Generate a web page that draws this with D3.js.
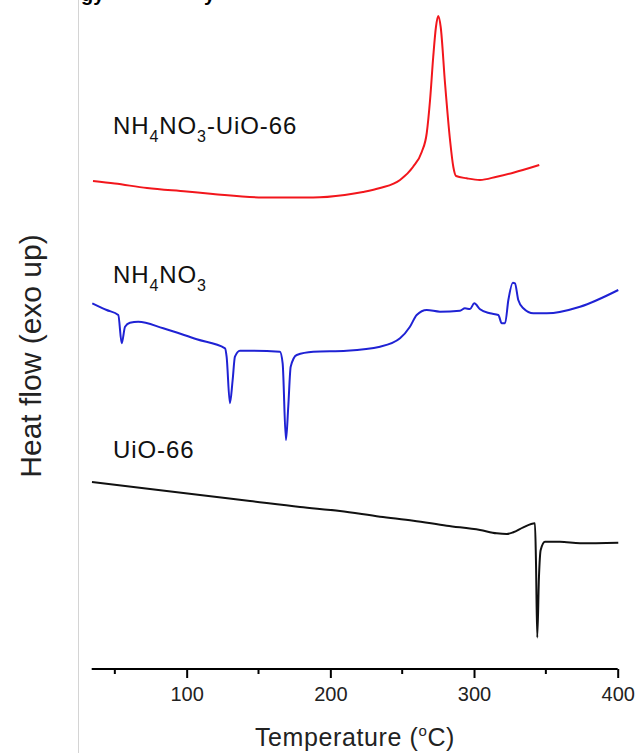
<!DOCTYPE html>
<html>
<head>
<meta charset="utf-8">
<script src="https://cdn.jsdelivr.net/npm/d3@7"></script>
<style>
  body { margin: 0; background: #fff; }
  text { font-family: "Liberation Sans", Arial, sans-serif; }
</style>
</head>
<body>
<svg id="chart" width="636" height="753"></svg>
<script>
// DSC traces, temperature in degC, heat flow in arbitrary units (curves offset)
var compositeTemp = [34.8, 50, 72.4, 100, 118.3, 153, 188, 210, 222.7, 234.6, 248.5, 257.5, 263.6, 267.1, 269.4, 271.6, 273.5, 275.1, 276.8, 279.8, 283.3, 285.6, 287.5, 294.9, 304.1, 315.8, 327.3, 345.4];
var compositeFlow = [48.8, 48.55, 48.1, 47.75, 47.5, 47.15, 47.15, 47.4, 47.7, 48.1, 48.9, 50.2, 51.7, 53.6, 56.9, 61.2, 64.2, 65.3, 64.2, 58.6, 52.9, 50.2, 49.3, 49.07, 48.9, 49.23, 49.63, 50.4];

var nitrateTemp = [34.3, 44.3, 52.4, 54.8, 57.1, 60.5, 66.3, 83.7, 107, 126.7, 127.8, 130.1, 132, 133.6, 137.1, 164.9, 166.8, 169.1, 170.7, 172.4, 176.6, 188.1, 211.4, 234.6, 248.5, 255.4, 260.1, 267.1, 276.3, 290.2, 293.7, 297.2, 300.2, 304.2, 311.1, 316.9, 319.3, 321.6, 323.9, 327, 328.5, 330.8, 334.3, 341.3, 350.6, 373.8, 400.4];
var nitrateFlow = [36.57, 35.9, 35.4, 32.57, 34.23, 34.63, 34.73, 34.07, 32.97, 32.07, 31.23, 26.57, 28.9, 31.23, 31.83, 31.73, 30.57, 22.9, 26.23, 30.23, 31.4, 31.73, 31.83, 32.23, 33.07, 34.23, 35.4, 35.9, 35.73, 35.83, 36.07, 36.0, 36.57, 35.97, 35.57, 35.4, 34.57, 34.57, 36.9, 38.63, 38.57, 36.9, 36.07, 35.57, 35.57, 36.23, 37.9];

var mofTemp = [34.1, 74.5, 109.3, 144.1, 178.9, 206.7, 234.6, 257.8, 281, 304.2, 315.8, 322.7, 327.3, 334.3, 342.4, 343.1, 344, 345.2, 346.4, 349.4, 359.8, 373.8, 400.4];
var mofFlow = [18.7, 18.0, 17.4, 16.8, 16.2, 15.8, 15.23, 14.83, 14.33, 13.9, 13.57, 13.5, 13.67, 14.17, 14.57, 10.9, 3.15, 9.23, 11.9, 12.73, 12.73, 12.57, 12.63];

var xTicks = [100, 200, 300, 400];
var xMinorTicks = [50, 150, 250, 350];

var traces = [
  {name: "composite", temp: compositeTemp, flow: compositeFlow, color: "#f2161c"},
  {name: "nitrate", temp: nitrateTemp, flow: nitrateFlow, color: "#1f22d4"},
  {name: "mof", temp: mofTemp, flow: mofFlow, color: "#111111"}
];

var svg = d3.select("#chart");
var plotBottom = 669;

var x = d3.scaleLinear().domain([33.9, 400]).range([91.7, 617.7]);
var y = d3.scaleLinear().domain([0, 66.9]).range([plotBottom, 0]);

// faint frame edge on the left of the source figure
svg.append("line")
    .attr("x1", 78.5).attr("x2", 78.5)
    .attr("y1", 0).attr("y2", 753)
    .attr("stroke", "#d4d4d4").attr("stroke-width", 1);

// caption text of the page above, cut by the crop
svg.append("text").attr("x", 81).attr("y", 1)
    .attr("font-size", 20).attr("font-weight", "bold").text("gy");
svg.append("text").attr("x", 204).attr("y", 1)
    .attr("font-size", 20).attr("font-weight", "bold").text("y");

var line = d3.line()
    .x(function(d) { return x(d[0]); })
    .y(function(d) { return y(d[1]); })
    .curve(d3.curveMonotoneX);

traces.forEach(function(t) {
    svg.append("path")
        .datum(d3.zip(t.temp, t.flow))
        .attr("fill", "none")
        .attr("stroke", t.color)
        .attr("stroke-width", 2)
        .attr("stroke-linejoin", "round")
        .attr("d", line);
});

// x axis
var axisG = svg.append("g").attr("transform", "translate(0," + plotBottom + ")");
axisG.call(d3.axisBottom(x).tickValues(xTicks).tickSize(9).tickPadding(9).tickFormat(d3.format("d")));
axisG.select(".domain").attr("stroke", "#000").attr("stroke-width", 2)
    .attr("d", "M" + x.range()[0] + ",0H" + x.range()[1]);
axisG.selectAll(".tick line").attr("stroke-width", 2);
axisG.selectAll(".tick text")
    .attr("font-size", 20)
    .attr("font-family", "'Liberation Sans', Arial, sans-serif")
    .attr("fill", "#222");
axisG.selectAll(".minor").data(xMinorTicks).enter().append("line")
    .attr("class", "minor")
    .attr("x1", function(d) { return x(d); }).attr("x2", function(d) { return x(d); })
    .attr("y1", 0).attr("y2", 5)
    .attr("stroke", "#000").attr("stroke-width", 2);

// axis titles
var xt = svg.append("text")
    .attr("x", 355).attr("y", 746)
    .attr("text-anchor", "middle")
    .attr("font-size", 25).attr("letter-spacing", 0.6).attr("fill", "#222");
xt.append("tspan").text("Temperature (");
xt.append("tspan").attr("font-size", 15).attr("dy", -10).text("o");
xt.append("tspan").attr("dy", 10).text("C)");

svg.append("text")
    .attr("transform", "translate(41,356) rotate(-90)")
    .attr("text-anchor", "middle")
    .attr("font-size", 30).attr("fill", "#222")
    .text("Heat flow (exo up)");

// trace labels with subscripts
function chemLabel(parts, lx, ly) {
    var t = svg.append("text").attr("x", lx).attr("y", ly)
        .attr("font-size", 24).attr("letter-spacing", 0.9).attr("fill", "#111");
    var shift = 0;
    parts.forEach(function(p) {
        var want = p.sub ? 8 : 0;
        t.append("tspan")
            .attr("font-size", p.sub ? 16 : 24)
            .attr("dy", want - shift)
            .text(p.s);
        shift = want;
    });
}
chemLabel([{s: "NH"}, {s: "4", sub: true}, {s: "NO"}, {s: "3", sub: true}, {s: "-UiO-66"}], 113, 134);
chemLabel([{s: "NH"}, {s: "4", sub: true}, {s: "NO"}, {s: "3", sub: true}], 113, 283);
chemLabel([{s: "UiO-66"}], 113, 458);
</script>
</body>
</html>
